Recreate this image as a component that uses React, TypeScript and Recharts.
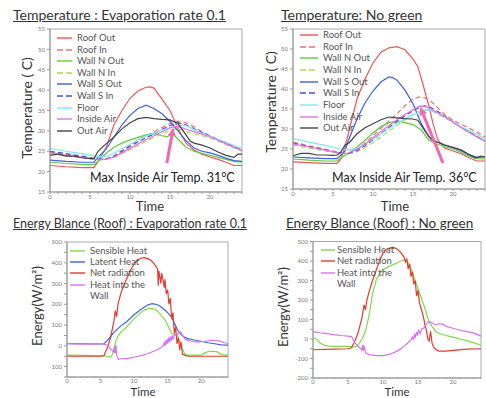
import React from 'react';
import { LineChart, Line, XAxis, YAxis, ReferenceLine, ReferenceArea } from 'recharts';

type P = [number, number][];

// ---------- Temperature : Evaporation rate 0.1 ----------
const roofOutA: P = [[0,21.5],[2,21.2],[4,21],[5.5,21],[6,22.5],[7,25.8],[8,31.5],[9,35],[10,38],[11,39.8],[12,40.7],[12.5,40.8],[13,40.5],[14,37.8],[15,35],[16,30.5],[17,27],[18,25.3],[19,24.3],[20,23.6],[21,23],[22,22.3],[23,21.5],[24,21.5]];
const roofInA: P = [[0,24.8],[2,24.2],[4,23.6],[6,22.9],[7,23],[8,23.8],[9,25.2],[10,26.5],[11,27.8],[12,28.8],[13,29.8],[14,30.8],[15,31.8],[16,32.4],[17,32],[18,31],[19,29.8],[20,28.8],[21,27.9],[22,27],[23,26],[24,25.2]];
const wallNOutA: P = [[0,22.3],[2,22],[4,21.8],[5.5,21.8],[6,22.5],[7,24.5],[8,26],[9,27],[10,27.8],[11,28.4],[12,29],[13,29.3],[14,28.8],[14.7,28.6],[15.3,29.3],[16,28],[17,26],[18,25],[19,24.5],[20,24],[21,23.5],[22,23],[23,22.5],[24,22.3]];
const wallNInA: P = [[0,24.5],[2,23.9],[4,23.4],[6,22.9],[7,23],[8,23.5],[9,24.4],[10,25.4],[11,26.4],[12,27.4],[13,28.4],[14,29.3],[15,30.1],[15.8,30.5],[16.5,30.2],[17,29.8],[18,29.3],[19,28.8],[20,28.2],[21,27.5],[22,26.6],[23,25.8],[24,25]];
const wallSOutA: P = [[0,22.8],[2,22.5],[4,22.3],[5.5,22.3],[6,23.5],[7,25.5],[8,28.5],[9,31.5],[10,33.8],[11,35.5],[12,36.3],[13,35.5],[14,34.2],[15,32.3],[16,30],[17,27.6],[18,25.8],[19,25],[20,24.6],[21,24],[22,23.3],[23,22.7],[24,22.5]];
const wallSInA: P = [[0,25],[2,24.4],[4,23.8],[6,23.1],[7,23.1],[8,23.8],[9,25],[10,26.2],[11,27.3],[12,28.3],[13,29.3],[14,30.3],[15,31.3],[16,32],[17,31.5],[18,30.5],[19,29.6],[20,28.7],[21,27.9],[22,27],[23,26.1],[24,25.3]];
const floorA: P = [[0,25.7],[2,25],[4,24.4],[6,23.7],[7,23.7],[8,24.5],[9,25.6],[10,26.7],[11,27.8],[12,28.7],[13,29.5],[14,30.2],[15,30.8],[16,31.3],[17,31.3],[18,30.3],[19,29.4],[20,28.6],[21,27.9],[22,27.2],[23,26.4],[24,25.7]];
const insideAirA: P = [[0,24.6],[2,24],[4,23.5],[6,23],[7,23],[8,23.6],[9,24.6],[10,25.7],[11,26.8],[12,27.8],[13,28.8],[14,29.8],[15,30.7],[15.7,31.1],[16.5,30.8],[17,30.4],[18,29.8],[19,29.2],[20,28.5],[21,27.7],[22,26.8],[23,26],[24,25.2]];
const outAirA: P = [[0,24],[1,24.3],[2,23.8],[3,23.8],[4,23.4],[5,23.2],[5.5,23.2],[6,25],[7,26.8],[8,28.5],[9,30.5],[10,32],[11,33],[12,33.3],[13,33],[14,32.8],[15,32.7],[16,31.8],[17,29],[17.5,27.5],[18,27],[19,26.5],[20,25.8],[21,24.8],[22,24],[23,23.5],[23.5,24.3],[24,24.3]];

// ---------- Temperature: No green ----------
const roofOutB: P = [[0,21.8],[2,21.6],[4,21.4],[5.5,21.4],[6,22.5],[6.5,25.5],[7,29.5],[7.5,33.5],[8,37.5],[9,42.5],[10,46.5],[11,49.2],[12,50.3],[13,50.6],[14,49.8],[15,47.5],[15.6,45.6],[16.2,41.5],[16.9,36.4],[17.5,31.4],[18.1,27.3],[19,25.2],[20,24.5],[21,23.8],[22,22.8],[23,22],[24,22]];
const roofInB: P = [[0,26.7],[2,25.8],[4,25],[6,24],[7,24],[8,25],[9,26.5],[10,28.3],[11,30.2],[12,32],[13,33.8],[14,35.8],[15,37.5],[15.7,38],[16.5,37.8],[17.3,36.8],[18,35.5],[19,33.5],[20,32.2],[21,31.2],[22,30.2],[23,29.2],[24,28]];
const wallNOutB: P = [[0,22.5],[2,22.2],[4,22],[5.5,22],[6,22.8],[7,24],[8,25.5],[9,27.2],[10,29],[11,30.6],[12,31.6],[13,32],[14,31.6],[15,31.1],[16,29.8],[17,27.2],[18,26.2],[19,25.6],[20,25],[21,24.2],[22,23.2],[23,22.6],[24,22.5]];
const wallNInB: P = [[0,26],[2,25.2],[4,24.5],[6,23.8],[7,23.8],[8,24.3],[9,25.3],[10,26.6],[11,28],[12,29.5],[13,30.9],[14,32.3],[15,33.6],[16,34.5],[16.7,34.8],[17.5,34.4],[18,33.8],[19,32.8],[20,31.6],[21,30.4],[22,29.2],[23,28],[24,26.9]];
const wallSOutB: P = [[0,23],[2,22.8],[4,22.6],[5.5,22.6],[6,23.5],[6.5,24.5],[7,27.5],[8,32.5],[9,36.5],[10,39.5],[11,41.8],[12,43],[12.5,42.8],[13,42.2],[14,39.7],[15,36.3],[16,31.5],[17,28],[18,26.8],[19,26],[20,25.3],[21,24.6],[22,23.6],[23,22.9],[24,23]];
const wallSInB: P = [[0,26.5],[2,25.6],[4,24.8],[6,23.9],[7,23.9],[8,24.6],[9,25.8],[10,27.3],[11,28.9],[12,30.4],[13,31.9],[14,33.3],[15,34.6],[16,35.6],[16.5,35.8],[17,35.6],[18,34.5],[19,33.2],[20,31.8],[21,30.5],[22,29.3],[23,28.1],[24,27]];
const floorB: P = [[0,27.6],[2,26.7],[4,25.9],[6,25],[7,24.8],[8,25.2],[9,26.2],[10,27.5],[11,28.8],[12,30.1],[13,31.4],[14,32.6],[15,33.6],[16,34.4],[17,34.8],[18,34],[19,33],[20,31.8],[21,30.6],[22,29.6],[23,28.6],[24,27.6]];
const insideAirB: P = [[0,26.3],[2,25.5],[4,24.7],[6,23.9],[7,24],[8,24.9],[9,26.2],[10,27.8],[11,29.4],[12,30.9],[13,32.3],[14,33.6],[15,34.8],[15.8,35.7],[16.5,35.6],[17,35.2],[18,34.2],[19,33],[20,31.7],[21,30.4],[22,29.2],[23,28],[24,27]];
const outAirB: P = [[0,23.3],[1,23.9],[2,23.9],[3,23.5],[4,23.5],[5,23.4],[5.5,23.5],[6,24.3],[6.5,26],[7,26.5],[8,28.8],[9,30.3],[10,31.3],[11,32.3],[12,33],[13,32.8],[14,32.6],[15,32.5],[15.6,32.2],[16.4,29.8],[17.3,27.3],[18,26.7],[19,26],[20,25.4],[21,24.8],[22,23.6],[22.8,22.8],[23.5,23.2],[24,23]];

// ---------- Energy Blance (Roof) : Evaporation rate 0.1 ----------
const sensibleA: P = [[0,-45],[5,-47],[6,-50],[6.5,-55],[6.8,-40],[7,-10],[7.3,25],[7.6,45],[8,65],[9,95],[10,130],[11,160],[11.5,172],[12,178],[12.7,180],[13.2,175],[13.7,160],[14.2,140],[14.6,125],[15,100],[15.3,80],[15.6,62],[16,55],[16.4,55],[16.8,20],[17.2,-15],[17.6,-40],[18,-45],[20,-45],[20.5,-35],[21,-28],[22,-26],[22.5,-30],[23,-42],[24,-45]];
const latentA: P = [[0,10],[2,10],[4,9],[5.5,10],[6,25],[6.5,45],[7,65],[8,95],[9,120],[10,150],[11,175],[12,197],[12.7,203],[13.5,198],[14,188],[14.5,175],[15,160],[15.5,142],[16,110],[16.5,75],[17,55],[17.5,42],[18,35],[19,28],[20,22],[21,15],[22,10],[23,5],[24,3]];
const netRadA: P = [[0,-50],[5,-50],[5.5,-48],[6,-10],[6.5,40],[7,120],[7.2,170],[7.4,140],[7.6,200],[8,250],[8.5,295],[9,330],[9.5,365],[10,395],[10.5,412],[11,422],[11.5,425],[12,420],[12.5,412],[13,395],[13.5,370],[13.6,290],[13.7,360],[14,300],[14.1,350],[14.3,320],[14.5,280],[14.6,320],[14.8,250],[15,270],[15.2,200],[15.4,230],[15.6,130],[15.8,160],[16,60],[16.2,90],[16.4,10],[16.6,40],[16.8,-20],[17,20],[17.2,-40],[17.5,-45],[18,-50],[24,-50]];
const heatWallA: P = [[0,10],[2,8],[4,10],[5.5,8],[6,3],[6.5,-15],[7,-30],[7.1,-5],[7.2,-35],[7.3,5],[7.4,-45],[7.7,-65],[8,-62],[9,-60],[10,-55],[11,-47],[12,-38],[13,-25],[13.5,-18],[14,-8],[14.3,0],[14.5,15],[14.6,0],[14.8,30],[14.9,8],[15.1,40],[15.2,15],[15.4,45],[15.5,22],[15.7,50],[15.8,30],[16,55],[16.3,50],[16.6,60],[16.9,68],[17.3,45],[17.7,30],[18.5,22],[19.5,18],[20.5,22],[21.5,27],[22.5,25],[23.5,15],[24,12]];

// ---------- Energy Blance (Roof) : No green ----------
const sensibleB: P = [[0,5],[0.5,0],[1,-20],[1.5,-30],[2,-35],[3,-38],[4,-38],[5,-38],[6,-40],[6.5,-30],[7,0],[7.5,40],[8,120],[8.5,230],[9,300],[9.5,335],[10,355],[11,375],[12,390],[12.5,400],[13,405],[13.5,398],[14,360],[14.5,310],[15,260],[15.5,205],[16,155],[16.5,95],[17,65],[17.5,40],[18,28],[19,18],[20,10],[21,0],[22,-8],[23,-20],[24,-32]];
const netRadB: P = [[0,-55],[3,-52],[5,-50],[5.5,-45],[6,-10],[6.5,40],[7,110],[7.3,175],[7.5,150],[7.7,200],[8,240],[8.5,300],[9,350],[9.5,400],[10,440],[10.5,458],[11,467],[11.5,470],[12,462],[12.5,445],[13,420],[13.2,395],[13.4,410],[13.6,360],[13.8,385],[14,320],[14.2,345],[14.4,280],[14.6,300],[14.8,220],[15,250],[15.2,185],[15.5,150],[15.8,110],[16,70],[16.2,45],[16.4,0],[16.6,-10],[16.8,40],[17,-20],[17.2,-40],[17.6,-55],[18,-62],[19,-62],[20,-58],[22,-52],[24,-50]];
const heatWallB: P = [[0,38],[1,32],[2,28],[3,22],[4,18],[5,15],[5.5,12],[6,-20],[6.5,-40],[7,-55],[7.1,-30],[7.2,-60],[7.3,-35],[7.5,-70],[8,-80],[9,-85],[10,-85],[11,-78],[12,-62],[12.5,-52],[13,-38],[13.5,-22],[14,-5],[14.2,10],[14.3,-2],[14.5,22],[14.6,8],[14.8,35],[14.9,18],[15.1,45],[15.3,28],[15.5,50],[15.8,55],[16,65],[16.3,80],[16.6,90],[17,82],[17.5,72],[18,78],[18.5,76],[19,65],[20,55],[21,45],[22,38],[23,30],[24,15]];

// ---------- axes ----------
const hourTicks = [0,1,2,3,4,5,6,7,8,9,10,11,12,13,14,15,16,17,18,19,20,21,22,23,24];
const tempTicks = [15,20,25,30,35,40,45,50,55];
const energyTicksA = [-150,-100,-50,0,50,100,150,200,250,300,350,400,450,500];
const energyTicksB = [-200,-150,-100,-50,0,50,100,150,200,250,300,350,400,450,500];

const FONT = "Lato, 'Open Sans', sans-serif";

type S = { name: string; data: P; color: string; dash?: string };

const tempSeries = (d: P[]): S[] => [
  { name: 'Roof Out', data: d[0], color: '#ec5757' },
  { name: 'Roof In', data: d[1], color: '#ee7070', dash: '5 3' },
  { name: 'Wall N Out', data: d[2], color: '#5fcc3c' },
  { name: 'Wall N In', data: d[3], color: '#a6dc50', dash: '5 3' },
  { name: 'Wall S Out', data: d[4], color: '#3f5fdc' },
  { name: 'Wall S In', data: d[5], color: '#4a4ed2', dash: '5 3' },
  { name: 'Floor', data: d[6], color: '#7fe8f0' },
  { name: 'Inside Air', data: d[7], color: '#ea6eea' },
  { name: 'Out Air', data: d[8], color: '#444444' },
];

const seriesA = tempSeries([roofOutA, roofInA, wallNOutA, wallNInA, wallSOutA, wallSInA, floorA, insideAirA, outAirA]);
const seriesB = tempSeries([roofOutB, roofInB, wallNOutB, wallNInB, wallSOutB, wallSInB, floorB, insideAirB, outAirB]);

const energySeriesA: S[] = [
  { name: 'Sensible Heat', data: sensibleA, color: '#7edb4e' },
  { name: 'Latent Heat', data: latentA, color: '#3e64e0' },
  { name: 'Net radiation', data: netRadA, color: '#e33b2c' },
  { name: 'Heat into the', data: heatWallA, color: '#d872ea' },
];
const energySeriesB: S[] = [
  { name: 'Sensible Heat', data: sensibleB, color: '#7edb4e' },
  { name: 'Net radiation', data: netRadB, color: '#e33b2c' },
  { name: 'Heat into the', data: heatWallB, color: '#d872ea' },
];

const Arrow = (props: any) => {
  const { x1, y1, x2, y2 } = props;
  const ang = Math.atan2(y2 - y1, x2 - x1);
  const L = 8, W = 4;
  const bx = x2 - L * Math.cos(ang), by = y2 - L * Math.sin(ang);
  const px = -Math.sin(ang) * W, py = Math.cos(ang) * W;
  return (
    <g>
      <line x1={x1} y1={y1} x2={bx} y2={by} stroke="#f067b4" strokeWidth={3} />
      <polygon points={`${x2},${y2} ${bx + px},${by + py} ${bx - px},${by - py}`} fill="#f067b4" />
    </g>
  );
};

type PanelProps = {
  left: number; top: number; width: number; height: number;
  margin: { top: number; right: number; bottom: number; left: number };
  yDomain: [number, number]; yTicks: number[]; series: S[];
  arrow?: { x: number; y: number }[]; xTickSize?: number;
};

function Panel({ left, top, width, height, margin, yDomain, yTicks, series, arrow, xTickSize = 2 }: PanelProps) {
  const tick = { fontSize: 6, fill: '#777', fontFamily: FONT };
  return (
    <div style={{ position: 'absolute', left, top }}>
      <LineChart width={width} height={height} margin={margin}>
        <XAxis type="number" dataKey="t" domain={[0, 24]} ticks={hourTicks} interval={0}
          tickFormatter={(v: number) => (v % 5 === 0 ? String(v) : '')}
          tick={tick} tickSize={xTickSize} tickMargin={1} height={12} axisLine={{ stroke: '#999' }} tickLine={{ stroke: '#999' }} />
        <YAxis type="number" domain={yDomain} ticks={yTicks} interval={0}
          tickFormatter={(v: number) => (yTicks.length > 10 ? (v % 100 === 0 ? String(v) : '') : String(v))}
          tick={tick} tickSize={3} width={30} axisLine={{ stroke: '#999' }} tickLine={{ stroke: '#999' }} />
        <ReferenceArea x1={0} x2={24} y1={yDomain[0]} y2={yDomain[1]} fill="none" stroke="#aaa" strokeWidth={1} />
        {series.map((s) => (
          <Line key={s.name} data={s.data.map(([t, v]) => ({ t, v }))} dataKey="v" type="linear"
            stroke={s.color} strokeWidth={1.2} strokeDasharray={s.dash} dot={false}
            isAnimationActive={false} name={s.name} />
        ))}
        {arrow && <ReferenceLine segment={arrow} shape={Arrow} ifOverflow="visible" />}
      </LineChart>
    </div>
  );
}

function LegendRows({ x, y, step, sw, gap, items, extra }: { x: number; y: number; step: number; sw: number; gap: number; items: S[]; extra?: string }) {
  return (
    <>
      {items.map((s, i) => (
        <div key={s.name} style={{ position: 'absolute', left: x, top: y + i * step - 6, height: 12, display: 'flex', alignItems: 'center', whiteSpace: 'nowrap' }}>
          <svg width={sw} height={4} style={{ display: 'block' }}>
            <line x1={0} y1={2} x2={sw} y2={2} stroke={s.color} strokeWidth={1.4} strokeDasharray={s.dash ? '6 3' : undefined} />
          </svg>
          <span style={{ marginLeft: gap, fontSize: 9.5, color: '#555', fontFamily: FONT, lineHeight: '12px' }}>{s.name}</span>
        </div>
      ))}
      {extra && (
        <div style={{ position: 'absolute', left: x + sw + gap, top: y + items.length * step - 6, fontSize: 9.5, color: '#555', fontFamily: FONT, lineHeight: '12px' }}>{extra}</div>
      )}
    </>
  );
}

const txt = (s: string, left: number, cy: number, size: number, extra: React.CSSProperties = {}) => (
  <div style={{ position: 'absolute', left, top: cy - size / 2 - 1, fontSize: size, lineHeight: `${size + 2}px`, color: '#333', fontFamily: FONT, whiteSpace: 'nowrap', ...extra }}>{s}</div>
);
const ctxt = (s: string, cx: number, cy: number, size: number, rotate = false) => (
  <div style={{ position: 'absolute', left: cx, top: cy, transform: `translate(-50%,-50%)${rotate ? ' rotate(-90deg)' : ''}`, fontSize: size, color: '#333', fontFamily: FONT, whiteSpace: 'nowrap', lineHeight: 1 }}>{s}</div>
);

export default function App() {
  return (
    <div style={{ position: 'absolute', left: 0, top: 0, width: 486, height: 398, background: '#fff', overflow: 'hidden' }}>
      <Panel left={20} top={20} width={226} height={186} margin={{ top: 9, right: 4, bottom: 2, left: 0 }}
        yDomain={[15, 55]} yTicks={tempTicks} series={seriesA}
        arrow={[{ x: 14.6, y: 22.1 }, { x: 15.4, y: 30.7 }]} />
      <Panel left={263} top={20} width={223} height={183} margin={{ top: 9, right: 1, bottom: 2, left: 0 }}
        yDomain={[15, 55]} yTicks={tempTicks} series={seriesB}
        arrow={[{ x: 18.75, y: 21.5 }, { x: 15.9, y: 35.5 }]} />
      <Panel left={37} top={232} width={195} height={159} margin={{ top: 10, right: 4, bottom: 2, left: 0 }}
        yDomain={[-150, 500]} yTicks={energyTicksA} series={energySeriesA} xTickSize={1} />
      <Panel left={283} top={232} width={202} height={160} margin={{ top: 9.5, right: 4, bottom: 2, left: 0 }}
        yDomain={[-200, 500]} yTicks={energyTicksB} series={energySeriesB} xTickSize={1} />

      {txt('Temperature : Evaporation rate 0.1', 13, 15, 14, { textDecoration: 'underline' })}
      {txt('Temperature: No green', 281, 15, 14, { textDecoration: 'underline' })}
      {txt('Energy Blance (Roof) : Evaporation rate 0.1', 13, 224, 12.5, { textDecoration: 'underline' })}
      {txt('Energy Blance (Roof) : No green', 286, 224, 13.5, { textDecoration: 'underline' })}

      {ctxt('Temperature ( C)', 27, 108, 14, true)}
      {ctxt('Temperature ( C)', 271, 102, 14, true)}
      {ctxt('Energy(W/m²)', 37, 306, 13, true)}
      {ctxt('Energy(W/m²)', 283, 307, 13, true)}

      {ctxt('Time', 150, 206, 13)}
      {ctxt('Time', 395, 206, 13)}
      {ctxt('Time', 143, 391.5, 11.5)}
      {ctxt('Time', 397, 391.5, 11.5)}

      {txt('Max Inside Air Temp. 31°C', 90, 178, 12.5, { color: '#222' })}
      {txt('Max Inside Air Temp. 36°C', 332, 178, 12.5, { color: '#222' })}

      <LegendRows x={57} y={38} step={11.6} sw={15} gap={5} items={seriesA} />
      <LegendRows x={300} y={35} step={11.65} sw={18} gap={5} items={seriesB} />
      <LegendRows x={70} y={251} step={11.2} sw={15} gap={5} items={energySeriesA} extra="Wall" />
      <LegendRows x={321} y={250} step={11.3} sw={14} gap={2} items={energySeriesB} extra="Wall" />
    </div>
  );
}
